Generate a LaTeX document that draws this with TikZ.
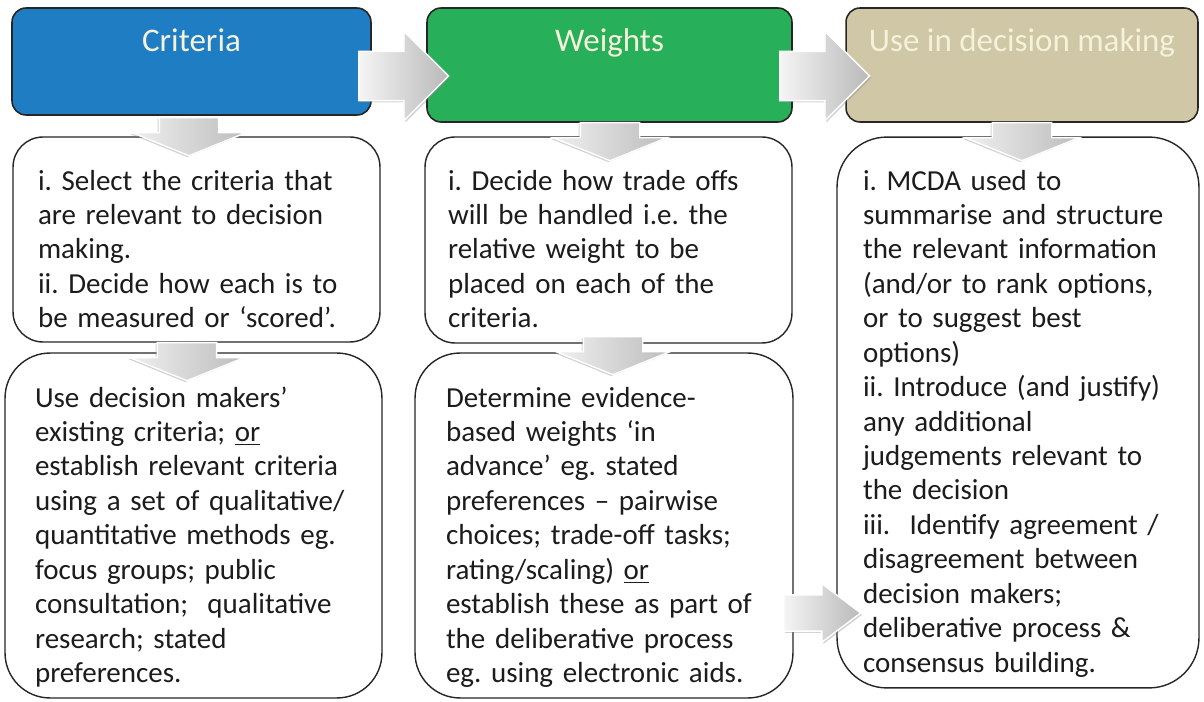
\documentclass[tikz,border=0pt]{standalone}
\usepackage{fontspec}
\setmainfont{Carlito}
\usetikzlibrary{shapes.arrows,shadows}
\definecolor{critblue}{HTML}{1F7DC3}
\definecolor{wtsgreen}{HTML}{27AF5A}
\definecolor{usetan}{HTML}{CFC7A5}
\definecolor{headtext}{HTML}{F4F2DA}
\definecolor{boxtext}{HTML}{1C1C1C}
\frenchspacing
\tikzset{
  head/.style={draw=black!85, line width=0.9pt, rounded corners=0.28cm, inner sep=0pt, text=headtext, font=\fontsize{18.8}{22}\selectfont, text height=0pt},
  box/.style={draw=black!85, line width=0.8pt, fill=white, inner sep=0pt, align=left, text=boxtext, font=\fontsize{16.5}{19.6}\selectfont\frenchspacing, text height=0pt},
  rarrow/.style={single arrow, anchor=tail, inner xsep=0pt, draw=white, line width=0.8pt, left color=gray!8, right color=gray!55, drop shadow={shadow xshift=0.8pt, shadow yshift=-1pt, opacity=0.35}},
  darrow/.style={single arrow, rotate=-90, anchor=tail, inner xsep=0pt, inner ysep=0.58cm, draw=white, line width=0.8pt, left color=gray!12, right color=gray!52, single arrow tip angle=136, single arrow head extend=0.54cm, minimum height=0.76cm, drop shadow={shadow xshift=-1pt, shadow yshift=-0.8pt, opacity=0.35}}
}
\begin{document}
\begin{tikzpicture}[x=0.02cm, y=-0.02cm]
\useasboundingbox (0,0) rectangle (1204,702);
\node[head, fill=critblue, minimum width=7.18cm, minimum height=2.14cm, text depth=0.38cm] (crit) at (191.5,61.5) {Criteria};
\node[head, fill=wtsgreen, minimum width=7.3cm, minimum height=2.28cm, text depth=0.52cm] (wts) at (609.5,65) {Weights};
\node[head, fill=usetan, minimum width=7.04cm, minimum height=2.28cm, text depth=0.52cm] (use) at (1022,65) {Use in decision making};
\node[box, rounded corners=0.6cm, minimum width=7.34cm, minimum height=4.1cm, text width=6.34cm, text depth=1.98cm] (c1) at (196.5,239.5) {i. Select the criteria that\\
are relevant to decision\\
making.\\
ii. Decide how each is to\\
be measured or ‘scored’.};
\node[box, rounded corners=0.9cm, minimum width=7.54cm, minimum height=6.9cm, text width=6.34cm, text depth=4.74cm] (c2) at (193.5,525.5) {Use decision makers’\\
existing criteria; \underline{or}\\
establish relevant criteria\\
using a set of qualitative/\\
quantitative methods eg.\\
focus groups; public\\
consultation;~ qualitative\\
research; stated\\
preferences.};
\node[box, rounded corners=0.6cm, minimum width=7.34cm, minimum height=4.12cm, text width=6.42cm, text depth=2cm] (w1) at (608.5,240) {i. Decide how trade offs\\
will be handled i.e. the\\
relative weight to be\\
placed on each of the\\
criteria.};
\node[box, rounded corners=0.9cm, minimum width=7.56cm, minimum height=6.9cm, text width=6.32cm, text depth=4.74cm] (w2) at (604,525.5) {Determine evidence-\\
based weights ‘in\\
advance’ eg. stated\\
preferences – pairwise\\
choices; trade-off tasks;\\
rating/scaling) \underline{or}\\
establish these as part of\\
the deliberative process\\
eg. using electronic aids.};
\node[box, rounded corners=1cm, minimum width=7.24cm, minimum height=11.02cm, text width=6.2cm, text depth=8.9cm] (u1) at (1018,412.5) {i. MCDA used to\\
summarise and structure\\
the relevant information\\
(and/or to rank options,\\
or to suggest best\\
options)\\
ii. Introduce (and justify)\\
any additional\\
judgements relevant to\\
the decision\\
iii.~ Identify agreement /\\
disagreement between\\
decision makers;\\
deliberative process \&\\
consensus building.};
\node[rarrow, minimum height=1.8cm, inner ysep=0.48cm, single arrow head extend=0.4cm] (ar1) at (358,76) {};
\node[rarrow, minimum height=1.8cm, inner ysep=0.48cm, single arrow head extend=0.4cm] (ar2) at (779,76) {};
\node[rarrow, minimum height=1.54cm, inner ysep=0.35cm, single arrow head extend=0.22cm, single arrow tip angle=74] (ar3) at (783,613) {};
\node[darrow] (d1) at (189,117) {};
\node[darrow] (d2) at (187,342) {};
\node[darrow] (d3) at (610,122) {};
\node[darrow] (d4) at (613,336) {};
\node[darrow] (d5) at (1022,122) {};
\end{tikzpicture}
\end{document}
